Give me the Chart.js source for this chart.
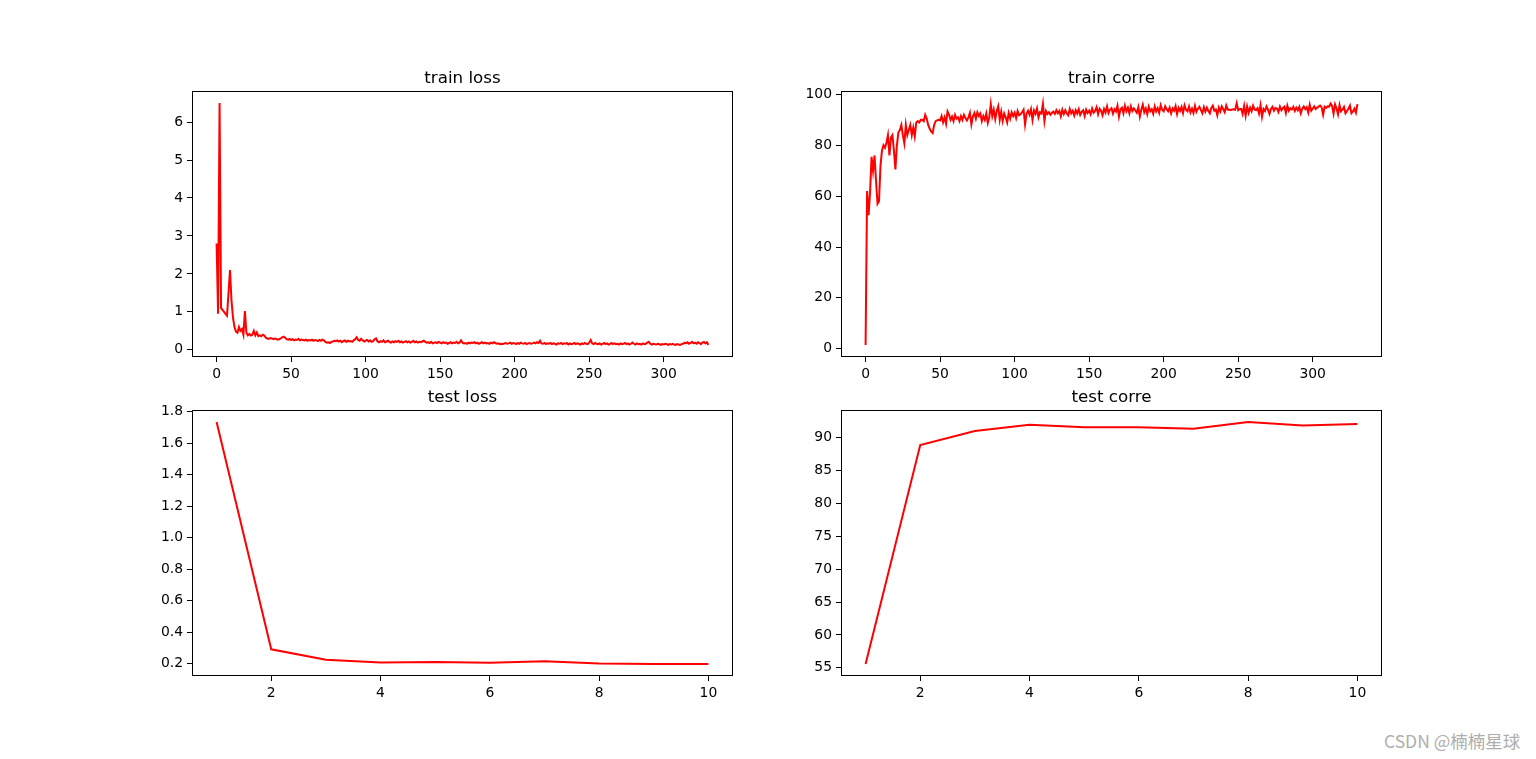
<!DOCTYPE html>
<html>
<head>
<meta charset="utf-8">
<script src="https://cdn.jsdelivr.net/npm/chart.js@4.4.0/dist/chart.umd.min.js"></script>
<style>
  html, body { margin: 0; padding: 0; background: #fff; }
  body { width: 1536px; height: 759px; position: relative; overflow: hidden; }
  canvas { position: absolute; }
  #mark {
    position: absolute; left: 1384px; top: 731px; line-height: 20px;
    font-family: "Noto Sans CJK SC", "Noto Sans", sans-serif; font-size: 17.5px;
    color: #aeaeae; white-space: nowrap;
  }
</style>
</head>
<body>
<canvas id="trainLossChart"></canvas>
<canvas id="trainCorreChart"></canvas>
<canvas id="testLossChart"></canvas>
<canvas id="testCorreChart"></canvas>
<div id="mark">CSDN @楠楠星球</div>
<script>
// ============================================
// DATA
// ============================================

// one value per training step, x = 0..330
const trainLoss = [
    2.8, 0.95, 6.5, 1.1, 1.05, 1.0, 0.95, 0.9, 1.5, 2.1,
    1.3, 0.85, 0.6, 0.48, 0.45, 0.6, 0.5, 0.55, 0.4, 1.02,
    0.45, 0.38, 0.42, 0.38, 0.4, 0.5, 0.38, 0.46, 0.36, 0.38,
    0.36, 0.4, 0.38, 0.32, 0.3, 0.29, 0.31, 0.3, 0.28, 0.3,
    0.29, 0.27, 0.28, 0.3, 0.33, 0.35, 0.32, 0.28, 0.27, 0.29,
    0.26, 0.28, 0.25, 0.27, 0.26, 0.29, 0.25, 0.27, 0.26, 0.25,
    0.27, 0.24, 0.26, 0.25, 0.27, 0.24, 0.26, 0.25, 0.23, 0.26,
    0.24, 0.27, 0.25, 0.21, 0.19, 0.2, 0.18, 0.21, 0.22, 0.24,
    0.23, 0.25, 0.22, 0.24, 0.2, 0.23, 0.25, 0.21, 0.24, 0.22,
    0.23, 0.21, 0.25, 0.28, 0.33, 0.26, 0.24, 0.29, 0.25, 0.22,
    0.24, 0.26, 0.22, 0.25, 0.21, 0.23, 0.28, 0.3, 0.22, 0.2,
    0.23, 0.21, 0.25, 0.2, 0.22, 0.24, 0.21, 0.19, 0.22, 0.2,
    0.23, 0.21, 0.24, 0.2, 0.22, 0.19, 0.21, 0.23, 0.2, 0.22,
    0.19, 0.21, 0.24, 0.2, 0.22, 0.19, 0.21, 0.2, 0.22, 0.24,
    0.21, 0.19, 0.2, 0.18, 0.21, 0.17, 0.19, 0.2, 0.18, 0.21,
    0.19, 0.17, 0.2, 0.18, 0.19, 0.16, 0.18, 0.2, 0.17, 0.19,
    0.18, 0.21, 0.17, 0.19, 0.25, 0.19, 0.17, 0.18, 0.16, 0.19,
    0.17, 0.19, 0.18, 0.2, 0.17, 0.19, 0.16, 0.18, 0.2, 0.17,
    0.19, 0.17, 0.18, 0.16, 0.19, 0.17, 0.2, 0.18, 0.16, 0.17,
    0.15, 0.16, 0.15, 0.17, 0.18, 0.16, 0.17, 0.19, 0.16, 0.18,
    0.17, 0.15, 0.18, 0.16, 0.19, 0.17, 0.16, 0.18, 0.15, 0.17,
    0.18, 0.16, 0.17, 0.19, 0.17, 0.2, 0.18, 0.24, 0.17, 0.16,
    0.18, 0.15, 0.17, 0.16, 0.18, 0.15, 0.17, 0.16, 0.14, 0.17,
    0.16, 0.18, 0.15, 0.17, 0.16, 0.18, 0.14, 0.17, 0.15, 0.16,
    0.18, 0.15, 0.17, 0.16, 0.14, 0.17, 0.15, 0.18, 0.16, 0.15,
    0.19, 0.26, 0.17, 0.15, 0.18, 0.16, 0.15, 0.17, 0.14, 0.16,
    0.18, 0.15, 0.17, 0.14, 0.16, 0.18, 0.15, 0.17, 0.15, 0.16,
    0.14, 0.17, 0.15, 0.16, 0.18, 0.15, 0.17, 0.14, 0.16, 0.19,
    0.16, 0.14, 0.17, 0.15, 0.16, 0.14, 0.17, 0.15, 0.16, 0.19,
    0.21, 0.16, 0.14, 0.16, 0.15, 0.14, 0.16, 0.15, 0.13, 0.15,
    0.14, 0.16, 0.15, 0.13, 0.15, 0.14, 0.16, 0.14, 0.13, 0.15,
    0.14, 0.13, 0.15, 0.16, 0.19, 0.17, 0.2, 0.16, 0.18, 0.21,
    0.17, 0.19, 0.16, 0.2, 0.18, 0.15, 0.19, 0.21, 0.17, 0.2,
    0.13,
];

const trainCorre = [
    1.5, 62, 52.5, 61.5, 75.5, 70, 76, 66, 57, 58,
    72, 78, 80, 79, 81, 84, 76, 83, 84, 78,
    70.5, 80, 85, 86, 88, 84, 80.8, 88, 84, 86,
    88, 84, 87, 83.5, 89, 89.5, 89, 90, 90, 89.5,
    92, 90.5, 88, 86.5, 85.5, 84.8, 88, 89.5, 89.8, 90,
    89.8, 91.5, 89, 91, 88.5, 93.3, 92, 90, 91.3, 89.5,
    92, 90.5, 91, 89.5, 91.5, 90, 92, 90.7, 89.8, 91,
    92.8, 88.2, 91.3, 92.7, 90.5, 93, 91.5, 92.5, 89.5, 91.5,
    90, 92.5, 88.8, 91, 96.2, 91.5, 94, 90.3, 93.5, 95.4,
    90, 93.2, 89.6, 92.5, 91, 89, 92.7, 90.5, 93, 91.5,
    92.8, 90.7, 93.5, 91.8, 92.2, 93, 94, 88.2, 92.5, 93.6,
    92, 94.2, 90, 93.7, 92.4, 94.5, 91, 93, 92.5, 96.3,
    89.5, 93.5, 92.3, 93, 92, 92.7, 93.3, 92.4, 93.8, 92.6,
    93.5, 91.4, 94, 92.3, 93.8, 92.5, 91.8, 94.3, 92.6, 93.6,
    91.7, 93.8, 92.5, 94.2, 92, 93.2, 93.8, 91.5, 94, 92.7,
    93.6, 92.2, 94.5, 92.8, 93.5, 95, 92.2, 94.4, 93.6, 91.8,
    94.3, 92.9, 95.3, 92.7, 94, 94.6, 92.5, 94.2, 93.3, 95.6,
    91.3, 94.2, 94.8, 92.6, 95.6, 93.4, 94.8, 92.6, 95.3, 93.5,
    94.5, 93.7, 92.8, 95, 91.3, 94, 96, 93, 94.5, 92.3,
    95.2, 93.4, 94.2, 92.4, 95.3, 93.3, 94.6, 92.8, 95.8, 94,
    93.4, 95.4, 94.2, 93.4, 94.8, 92.6, 94.5, 93.6, 95.4, 92.3,
    94.7, 93.5, 95.1, 92.7, 95.7, 94, 93.4, 95.3, 92.9, 94.4,
    92.7, 95.5, 93.2, 94.4, 95.2, 93.8, 92.6, 95, 93.3, 94.8,
    93.5, 92.6, 94.7, 95.6, 93.6, 94.1, 91.8, 94.8, 93.3, 95.3,
    94.2, 93, 95.6, 94, 94.1, 93.8, 94.1, 94.2, 94, 96.6,
    93.8, 94.3, 94.3, 92.3, 95.5, 91.6, 95.3, 92.8, 94.8, 93.4,
    95.6, 94.1, 93.8, 94.6, 92.5, 95.8, 91.2, 94.3, 93.5, 95.3,
    94, 92.3, 94.3, 95.1, 93.6, 94.7, 94.5, 93.1, 95.2, 93.8,
    94.6, 95.2, 92.7, 95.6, 93.6, 94.6, 94.1, 95.1, 93.5, 94.8,
    93.8, 95.1, 92.6, 94.4, 95.3, 94.2, 95, 92.9, 96, 93.6,
    94.4, 95.3, 94.3, 94.8, 95.2, 95.6, 94.9, 92, 95.2, 94.7,
    95.3, 95.2, 96.4, 95.5, 92.4, 96.1, 94.5, 92.2, 95.8, 93.4,
    94.1, 95.1, 92.6, 93.5, 94.4, 95.6, 92.6, 93.3, 94.4, 92.8,
    96.2,
];

const testEpochs = [1, 2, 3, 4, 5, 6, 7, 8, 9, 10];
const testLoss = [1.735, 0.292, 0.225, 0.208, 0.211, 0.206, 0.216, 0.201, 0.199, 0.199];
const testCorre = [55.6, 88.9, 91.05, 92.0, 91.6, 91.6, 91.4, 92.4, 91.9, 92.1];

// tick labels
const trainXTicks = [0, 50, 100, 150, 200, 250, 300];
const trainLossTicks = [0, 1, 2, 3, 4, 5, 6];
const trainCorreTicks = [0, 20, 40, 60, 80, 100];
const testXTicks = [2, 4, 6, 8, 10];
const testLossTicks = [0.2, 0.4, 0.6, 0.8, 1.0, 1.2, 1.4, 1.6, 1.8];
const testCorreTicks = [55, 60, 65, 70, 75, 80, 85, 90];

// ============================================
// LAYOUT (2x2 subplots)
// ============================================

const Y_AXIS_W = 60;
const X_AXIS_H = 28;
const TITLE_H = 24;
const RIGHT_PAD = 10;
const PLOT_W = 541;
const PLOT_H = 266;
const FONT = "'DejaVu Sans', 'Liberation Sans', sans-serif";

// 5% margins on each side, like matplotlib autoscale
const paddedRange = (values) => {
    const lo = Math.min(...values);
    const hi = Math.max(...values);
    const m = (hi - lo) * 0.05;
    return { min: lo - m, max: hi + m };
};

// axes frame on all four sides
const framePlugin = {
    id: "frame",
    afterDraw(chart) {
        const { ctx, chartArea: a } = chart;
        ctx.save();
        ctx.strokeStyle = "#000";
        ctx.lineWidth = 1;
        ctx.strokeRect(a.left + 0.5, a.top + 0.5, a.right - a.left - 1, a.bottom - a.top - 1);
        ctx.restore();
    },
};

// title centred over the plot area, not the whole canvas
const subplotTitlePlugin = {
    id: "subplotTitle",
    afterDraw(chart, args, opts) {
        const { ctx, chartArea: a } = chart;
        ctx.save();
        ctx.fillStyle = "#000";
        ctx.font = `16.7px ${FONT}`;
        ctx.textAlign = "center";
        ctx.textBaseline = "alphabetic";
        ctx.fillText(opts.text, (a.left + a.right) / 2, a.top - 8.3);
        ctx.restore();
    },
};

function makeAxis(ticks, range, decimals) {
    return {
        type: "linear",
        min: range.min,
        max: range.max,
        grid: {
            drawOnChartArea: false,
            drawTicks: true,
            tickLength: 5,
            color: "#000",
            lineWidth: 1,
        },
        border: { display: false },
        ticks: {
            autoSkip: false,
            maxRotation: 0,
            padding: 4,
            color: "#000",
            font: { family: FONT, size: 13.9 },
            callback: (v) => Number(v).toFixed(decimals),
        },
        afterBuildTicks: (scale) => {
            scale.ticks = ticks.map((value) => ({ value }));
        },
    };
}

function createLineChart(id, plotLeft, plotTop, xs, ys, xTicks, yTicks, title, yDecimals) {
    const canvas = document.getElementById(id);
    canvas.width = Y_AXIS_W + PLOT_W + RIGHT_PAD;
    canvas.height = TITLE_H + PLOT_H + X_AXIS_H;
    canvas.style.left = plotLeft - Y_AXIS_W + "px";
    canvas.style.top = plotTop - TITLE_H + "px";

    const points = ys.map((y, i) => ({ x: xs[i], y }));

    return new Chart(canvas, {
        type: "line",
        data: {
            datasets: [
                {
                    data: points,
                    borderColor: "#ff0000",
                    borderWidth: 2,
                    pointRadius: 0,
                    tension: 0,
                    fill: false,
                },
            ],
        },
        options: {
            responsive: false,
            animation: false,
            devicePixelRatio: 1,
            layout: { padding: { left: 0, right: RIGHT_PAD, top: TITLE_H, bottom: 0 } },
            plugins: {
                legend: { display: false },
                tooltip: { enabled: false },
                title: { display: false },
                subplotTitle: { text: title },
            },
            scales: {
                x: {
                    ...makeAxis(xTicks, paddedRange(xs), 0),
                    position: "bottom",
                    afterFit: (s) => { s.height = X_AXIS_H; },
                },
                y: {
                    ...makeAxis(yTicks, paddedRange(ys), yDecimals),
                    position: "left",
                    afterFit: (s) => { s.width = Y_AXIS_W; },
                },
            },
        },
        plugins: [framePlugin, subplotTitlePlugin],
    });
}

// ============================================
// CHARTS
// ============================================

const trainSteps = trainLoss.map((_, i) => i);

createLineChart("trainLossChart", 192, 91, trainSteps, trainLoss, trainXTicks, trainLossTicks, "train loss", 0);
createLineChart("trainCorreChart", 841, 91, trainSteps, trainCorre, trainXTicks, trainCorreTicks, "train corre", 0);
createLineChart("testLossChart", 192, 410, testEpochs, testLoss, testXTicks, testLossTicks, "test loss", 1);
createLineChart("testCorreChart", 841, 410, testEpochs, testCorre, testXTicks, testCorreTicks, "test corre", 0);
</script>
</body>
</html>
